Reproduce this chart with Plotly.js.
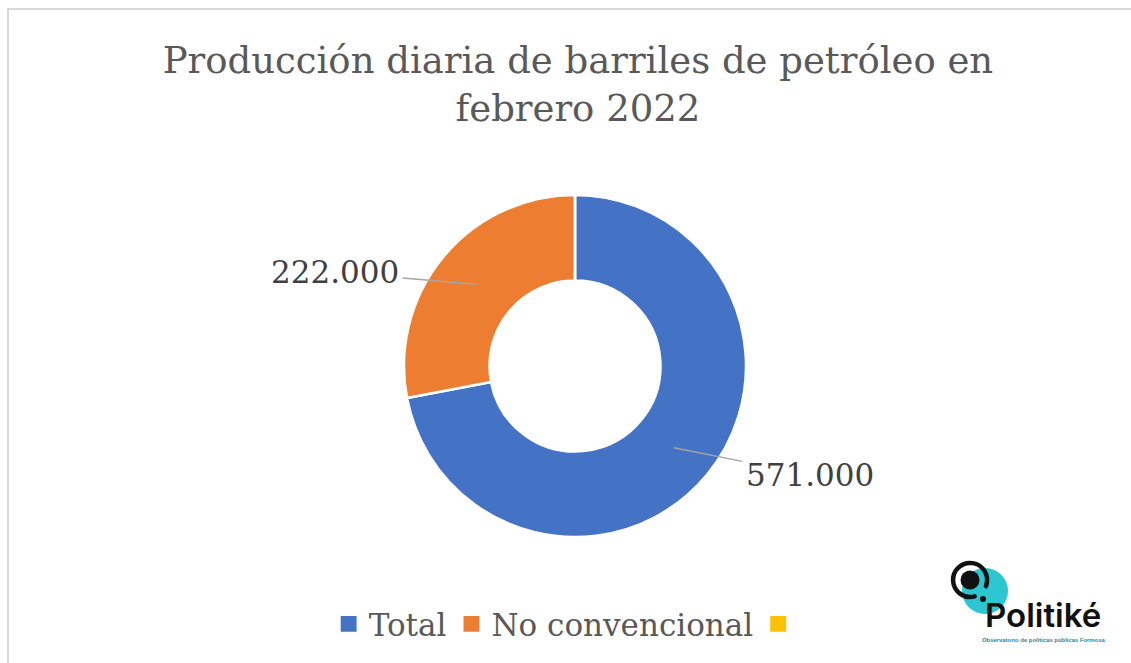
<!DOCTYPE html>
<html>
<head>
<meta charset="utf-8">
<script src="https://cdn.plot.ly/plotly-3.0.1.min.js"></script>
<style>
  html, body { margin: 0; padding: 0; background: #ffffff; }
  #chart { width: 1131px; height: 663px; position: absolute; left: 0; top: 0; }
  #frame { position: absolute; left: 7px; top: 8px; width: 1140px; height: 700px;
           border-left: 2px solid #d9d9d9; border-top: 2px solid #d9d9d9; pointer-events: none; }
  #logo { position: absolute; left: 930px; top: 538px; width: 196px; height: 122px; pointer-events: none; }
  #chart .legendpoints path { transform: translate(20px, 0px) scale(1.67); }
</style>
</head>
<body>
<div id="chart"></div>
<div id="frame"></div>
<svg id="logo" viewBox="0 0 196 122" xmlns="http://www.w3.org/2000/svg">
  <rect x="0" y="0" width="196" height="122" fill="#ffffff"/>
  <circle cx="55" cy="53" r="23" fill="#2cc6d1"/>
  <path d="M 44.7 58.3 A 17 17 0 1 1 55.9 48.1" fill="none" stroke="#111111" stroke-width="4.5" stroke-linecap="round"/>
  <circle cx="40" cy="42" r="9.5" fill="#111111"/>
  <circle cx="53" cy="61" r="3" fill="#111111"/>
  <text x="55" y="89" font-family="Inter, 'Liberation Sans', sans-serif" font-weight="600" font-size="33" fill="#111111">Politiké</text>
  <text x="52" y="104" font-family="'Liberation Sans', sans-serif" font-weight="700" font-size="5.9" fill="#2b8794">Observatorio de políticas públicas Formosa</text>
</svg>
<script>
const chartTitle = 'Producción diaria de barriles de petróleo en<br>febrero 2022';
const categories = ['Total', 'No convencional', ' '];
const values = [571000, 222000, 0];
const sliceColors = ['#4472C4', '#ED7D31', '#FFC000'];

// geometry of the donut (layout settings)
const W = 1131, H = 663;
const M = { l: 0, r: 0, t: 195, b: 126 };
const domX = [0.0168, 1];
const plotW = W - M.l - M.r, plotH = H - M.t - M.b;
const cxPx = (domX[0] + domX[1]) / 2 * plotW;
const radius = Math.min(plotW * (domX[1] - domX[0]), plotH) / 2;

function fmt(v) { return String(Math.round(v)).replace(/\B(?=(\d{3})+(?!\d))/g, '.'); }

// data-label offsets (pixels, style)
const labelOffsets = [[136, 27], [-141, -12], null];

const total = values.reduce((a, b) => a + b, 0);
const annotations = [];
let cum = 0;
values.forEach((v, i) => {
  const mid = (cum + v / 2) / total * 2 * Math.PI; // clockwise from 12 o'clock
  cum += v;
  if (!v || !labelOffsets[i]) return;
  const f = 0.75;
  const px = cxPx + f * radius * Math.sin(mid);
  const py = f * radius * Math.cos(mid);
  annotations.push({
    xref: 'paper', yref: 'paper',
    x: px / plotW, y: 0.5 + py / plotH,
    text: fmt(v),
    showarrow: true, arrowhead: 0, arrowwidth: 1.5, arrowcolor: '#a6a6a6',
    standoff: 0, startstandoff: 2,
    ax: labelOffsets[i][0], ay: labelOffsets[i][1],
    font: { family: 'DejaVu Serif', size: 31, color: '#404040' }
  });
});

const trace = {
  type: 'pie',
  labels: categories,
  values: values,
  hole: 0.5,
  sort: false,
  direction: 'clockwise',
  rotation: 0,
  marker: { colors: sliceColors, line: { color: '#ffffff', width: 2.5 } },
  textinfo: 'none',
  domain: { x: domX, y: [0, 1] },
  hoverinfo: 'label+value',
  showlegend: true
};

const layout = {
  width: W,
  height: H,
  separators: ',.',
  paper_bgcolor: '#ffffff',
  margin: { l: M.l, r: M.r, t: M.t, b: M.b, autoexpand: false },
  title: {
    text: chartTitle,
    font: { family: 'DejaVu Serif', size: 37, color: '#595959' },
    x: 0.511, xanchor: 'center',
    xref: 'container', yref: 'container',
    y: 0.8905, yanchor: 'top'
  },
  legend: {
    orientation: 'h',
    x: 0.505, xanchor: 'center',
    xref: 'container', yref: 'container',
    y: 0.0585, yanchor: 'middle',
    font: { family: 'DejaVu Serif', size: 31, color: '#595959' },
    traceorder: 'normal'
  },
  annotations: annotations,
  showlegend: true
};

Plotly.newPlot('chart', [trace], layout, { displayModeBar: false, staticPlot: true });
</script>
</body>
</html>
